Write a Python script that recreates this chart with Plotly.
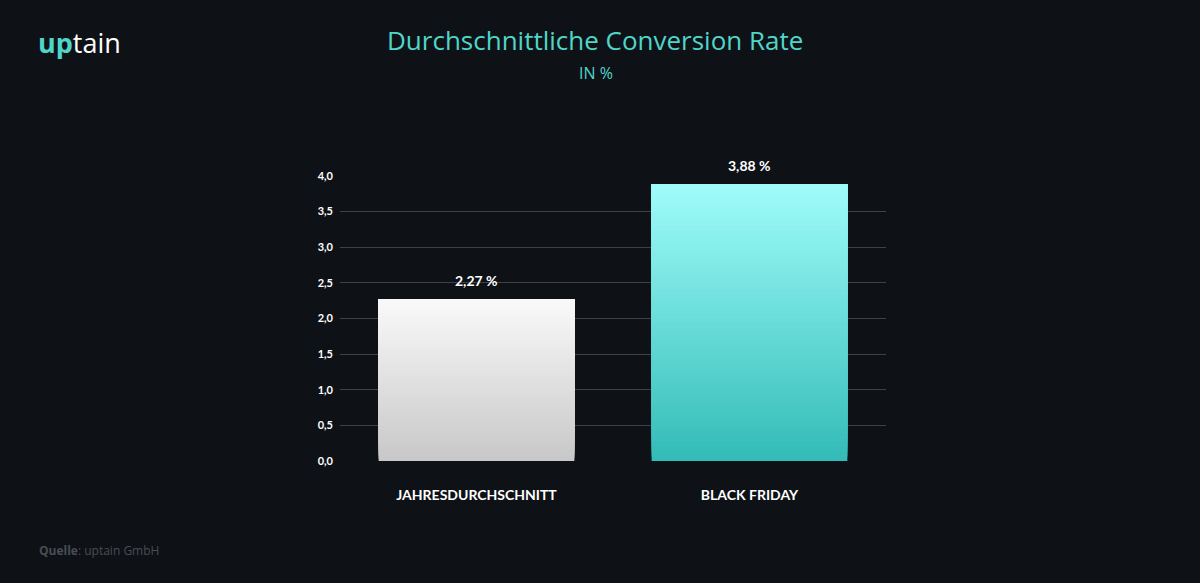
import plotly.graph_objects as go

categories = ["JAHRESDURCHSCHNITT", "BLACK FRIDAY"]
values = [2.27, 3.88]
value_labels = ["2,27 %", "3,88 %"]
y_ticks = [0, 0.5, 1.0, 1.5, 2.0, 2.5, 3.0, 3.5, 4.0]

# gradient endpoints (top, bottom) per bar
grad_top = [(250, 250, 250), (160, 253, 250)]
grad_bot = [(200, 200, 200), (52, 188, 184)]

BG = "#0e1217"
N = 60

fig = go.Figure()

# gradient: overlapping bars from increasing base up to the value
for k in range(N):
    t = k / N
    cols = []
    for top, bot in zip(grad_top, grad_bot):
        c = tuple(int(round(b + (tp - b) * t)) for tp, b in zip(top, bot))
        cols.append("rgb(%d,%d,%d)" % c)
    fig.add_trace(go.Bar(
        x=categories,
        y=[v - v * k / N for v in values],
        base=[v * k / N for v in values],
        marker=dict(color=cols, line=dict(width=0)),
        hoverinfo="skip",
        showlegend=False,
    ))

W, H = 1200, 583
L, R, T, B = 340, 314, 176, 122
pw, ph = W - L - R, H - T - B
def px(x): return (x - L) / pw
def py(y): return (H - B - y) / ph

anns = []
for c, v, lab in zip(categories, values, value_labels):
    anns.append(dict(x=c, y=v, xref="x", yref="y", text="<b>%s</b>" % lab, showarrow=False,
                     yanchor="middle", yshift=19,
                     font=dict(family="Lato", size=14, color="#ffffff")))

anns += [
    dict(text="Durchschnittliche Conversion Rate", x=px(595), y=py(40), xref="paper", yref="paper",
         xanchor="center", yanchor="middle",
         showarrow=False, font=dict(family="Open Sans", size=26, color="#4fd6c9")),
    dict(text="IN %", x=px(596), y=py(73), xref="paper", yref="paper",
         xanchor="center", yanchor="middle",
         showarrow=False, font=dict(family="Open Sans", size=16, color="#4fd6c9")),
    dict(text="<b><span style='color:#4fd6c9'>up</span></b>tain", x=px(36), y=py(42), xref="paper", yref="paper",
         xanchor="left", yanchor="middle",
         showarrow=False, font=dict(family="Open Sans", size=27, color="#ffffff")),
    dict(text="<b>Quelle</b>: uptain GmbH", x=px(37), y=py(550), xref="paper", yref="paper",
         xanchor="left", yanchor="middle",
         showarrow=False, font=dict(family="Open Sans", size=12, color="#4a4d52")),
]

fig.update_layout(
    width=W, height=H,
    paper_bgcolor=BG, plot_bgcolor=BG,
    margin=dict(l=L, r=R, t=T, b=B),
    barmode="overlay", bargap=0.283,
    separators=",.",
    font=dict(family="Lato", color="#ffffff"),
    xaxis=dict(
        showgrid=False, zeroline=False, showline=False,
        tickfont=dict(family="Lato", size=14, color="#ffffff", weight="bold"),
        ticklabelstandoff=24,
    ),
    yaxis=dict(
        range=[0, 4.0], tickvals=y_ticks, tickformat=".1f",
        showgrid=True, gridcolor="#3e4146", gridwidth=1,
        zeroline=False, showline=False,
        tickfont=dict(family="Lato", size=11, color="#ffffff", weight="bold"),
        ticklabelstandoff=6,
    ),
    annotations=anns,
)

fig.write_html("out.html", config={"displayModeBar": False},
               post_script="document.body.style.margin='0';document.body.style.background='%s';" % BG)
